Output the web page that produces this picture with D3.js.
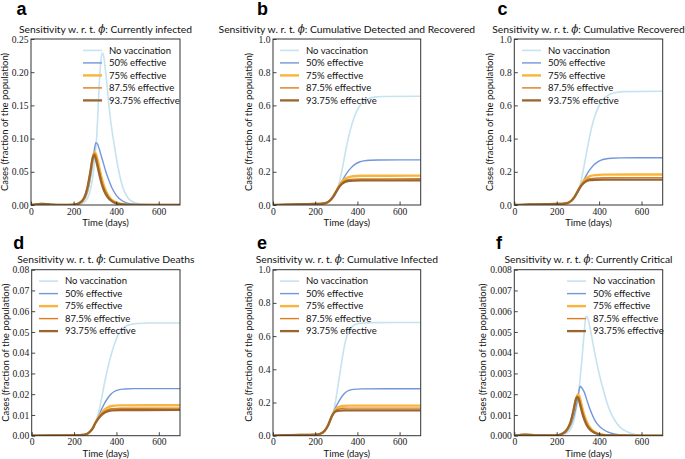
<!DOCTYPE html>
<html><head><meta charset="utf-8">
<script src="https://cdn.jsdelivr.net/npm/d3@7"></script>
<style>body{margin:0;background:#fff}</style>
</head><body><svg id="chart" width="685" height="459"></svg>
<script>
// ---------------- DATA ----------------
const seriesNames = ["No vaccination", "50% effective", "75% effective", "87.5% effective", "93.75% effective"];
const xTickValues = [0, 200, 400, 600];
const yTicksA = [0, 0.05, 0.10, 0.15, 0.20, 0.25];
const yTicksUnit = [0, 0.2, 0.4, 0.6, 0.8, 1.0];
const yTicksD = [0, 0.01, 0.02, 0.03, 0.04, 0.05, 0.06, 0.07, 0.08];
const yTicksF = [0, 0.001, 0.002, 0.003, 0.004, 0.005, 0.006, 0.007, 0.008];
const panelLetters = ["a", "b", "c", "d", "e", "f"];
const panelTitles = ["Currently infected", "Cumulative Detected and Recovered", "Cumulative Recovered",
                     "Cumulative Deaths", "Cumulative Infected", "Currently Critical"];

// a: currently infected
const a_noVac = [[0,0],[25,0.001],[50,0.0015],[75,0.0012],[100,0.0006],[150,0.0002],[200,0.0004],[225,0.0012],[250,0.004],[265,0.01],[280,0.024],[290,0.042],[300,0.072],[308,0.1],[316,0.15],[324,0.2],[330,0.222],[335,0.229],[341,0.225],[348,0.208],[355,0.188],[363,0.16],[375,0.125],[390,0.093],[410,0.055],[430,0.028],[455,0.011],[490,0.003],[550,0.0005],[620,0],[700,0]];
const a_eff50 = [[0,0],[25,0.001],[50,0.0015],[75,0.0012],[100,0.0006],[150,0.0002],[200,0.0005],[225,0.002],[250,0.008],[265,0.019],[280,0.042],[290,0.064],[298,0.084],[305,0.094],[312,0.092],[320,0.085],[330,0.074],[340,0.063],[350,0.052],[365,0.038],[380,0.026],[400,0.015],[430,0.006],[470,0.0015],[520,0.0003],[600,0],[700,0]];
const a_eff75 = [[0,0],[25,0.001],[50,0.0015],[75,0.0012],[100,0.0006],[150,0.0002],[200,0.0006],[225,0.0022],[250,0.01],[265,0.024],[280,0.05],[290,0.07],[298,0.08],[305,0.077],[315,0.065],[325,0.05],[335,0.037],[345,0.027],[360,0.016],[375,0.009],[400,0.004],[440,0.001],[500,0.0001],[700,0]];
const a_eff875 = [[0,0],[25,0.001],[50,0.0015],[75,0.0012],[100,0.0006],[150,0.0002],[200,0.0006],[225,0.0023],[250,0.0105],[265,0.025],[280,0.051],[290,0.07],[297,0.078],[304,0.075],[314,0.062],[324,0.047],[334,0.034],[345,0.024],[360,0.014],[375,0.008],[400,0.003],[440,0.0008],[500,0.0001],[700,0]];
const a_eff9375 = [[0,0],[25,0.001],[50,0.0015],[75,0.0012],[100,0.0006],[150,0.0002],[200,0.0006],[225,0.0024],[250,0.011],[265,0.026],[280,0.052],[289,0.07],[295,0.075],[302,0.072],[312,0.059],[322,0.045],[332,0.032],[344,0.021],[360,0.012],[375,0.007],[400,0.0025],[440,0.0006],[500,0.0001],[700,0]];

// b: cumulative detected and recovered
const b_noVac = [[0,0],[50,0.002],[100,0.004],[200,0.006],[250,0.012],[270,0.025],[285,0.045],[300,0.078],[315,0.14],[330,0.23],[345,0.33],[360,0.42],[375,0.49],[390,0.545],[405,0.585],[420,0.612],[440,0.632],[460,0.644],[480,0.65],[520,0.654],[700,0.655]];
const b_eff50 = [[0,0],[50,0.002],[100,0.004],[200,0.006],[250,0.012],[270,0.025],[285,0.045],[300,0.075],[315,0.11],[330,0.15],[345,0.183],[360,0.21],[375,0.231],[390,0.246],[410,0.259],[430,0.266],[460,0.27],[500,0.271],[700,0.272]];
const b_eff75 = [[0,0],[50,0.002],[100,0.004],[200,0.006],[250,0.012],[270,0.027],[285,0.05],[300,0.084],[315,0.118],[330,0.145],[345,0.16],[360,0.168],[380,0.173],[420,0.176],[700,0.177]];
const b_eff875 = [[0,0],[50,0.002],[100,0.004],[200,0.006],[250,0.012],[270,0.027],[285,0.05],[300,0.083],[315,0.114],[330,0.136],[345,0.148],[360,0.153],[380,0.156],[420,0.157],[700,0.158]];
const b_eff9375 = [[0,0],[50,0.002],[100,0.004],[200,0.006],[250,0.012],[270,0.027],[285,0.05],[300,0.082],[315,0.111],[330,0.131],[345,0.141],[360,0.145],[380,0.147],[420,0.148],[700,0.148]];

// c: cumulative recovered
const c_noVac = [[0,0],[50,0.002],[100,0.004],[200,0.006],[250,0.012],[270,0.025],[285,0.046],[300,0.08],[315,0.145],[330,0.24],[345,0.345],[360,0.44],[375,0.515],[390,0.57],[405,0.61],[420,0.638],[440,0.659],[460,0.671],[480,0.678],[520,0.683],[700,0.685]];
const c_eff50 = [[0,0],[50,0.002],[100,0.004],[200,0.006],[250,0.012],[270,0.025],[285,0.046],[300,0.077],[315,0.114],[330,0.156],[345,0.191],[360,0.219],[375,0.241],[390,0.257],[410,0.27],[430,0.277],[460,0.282],[500,0.284],[700,0.285]];
const c_eff75 = [[0,0],[50,0.002],[100,0.004],[200,0.006],[250,0.012],[270,0.027],[285,0.051],[300,0.086],[315,0.122],[330,0.15],[345,0.166],[360,0.175],[380,0.18],[420,0.183],[700,0.184]];
const c_eff875 = [[0,0],[50,0.002],[100,0.004],[200,0.006],[250,0.012],[270,0.027],[285,0.051],[300,0.085],[315,0.118],[330,0.141],[345,0.154],[360,0.159],[380,0.162],[420,0.164],[700,0.165]];
const c_eff9375 = [[0,0],[50,0.002],[100,0.004],[200,0.006],[250,0.012],[270,0.027],[285,0.051],[300,0.084],[315,0.115],[330,0.135],[345,0.146],[360,0.15],[380,0.152],[420,0.153],[700,0.153]];

// d: cumulative deaths
const d_noVac = [[0,0],[100,0.0001],[200,0.0002],[250,0.0005],[275,0.0018],[290,0.0038],[300,0.006],[315,0.011],[330,0.018],[345,0.026],[360,0.033],[375,0.039],[390,0.044],[405,0.048],[420,0.0505],[440,0.0525],[460,0.0535],[500,0.0541],[550,0.0543],[700,0.0543]];
const d_eff50 = [[0,0],[100,0.0001],[200,0.0002],[250,0.0005],[275,0.0018],[290,0.0038],[300,0.0058],[315,0.0092],[330,0.0128],[345,0.0158],[360,0.0183],[375,0.0201],[390,0.0213],[410,0.0221],[440,0.0225],[480,0.0227],[700,0.0227]];
const d_eff75 = [[0,0],[100,0.0001],[200,0.0002],[250,0.0005],[275,0.0019],[290,0.0039],[300,0.006],[315,0.0088],[330,0.011],[345,0.0127],[360,0.0137],[380,0.0143],[410,0.0146],[700,0.0147]];
const d_eff875 = [[0,0],[100,0.0001],[200,0.0002],[250,0.0005],[275,0.0019],[290,0.0039],[300,0.006],[315,0.0085],[330,0.0105],[345,0.0118],[360,0.0126],[380,0.013],[420,0.0132],[700,0.0133]];
const d_eff9375 = [[0,0],[100,0.0001],[200,0.0002],[250,0.0005],[275,0.0019],[290,0.0039],[300,0.006],[315,0.0083],[330,0.01],[345,0.0112],[360,0.0118],[380,0.0122],[420,0.0123],[700,0.0124]];

// e: cumulative infected
const e_noVac = [[0,0],[50,0.003],[100,0.004],[200,0.006],[225,0.012],[245,0.03],[260,0.06],[270,0.09],[280,0.12],[290,0.165],[300,0.235],[310,0.315],[320,0.4],[330,0.48],[340,0.55],[350,0.6],[365,0.64],[380,0.662],[400,0.674],[430,0.679],[480,0.681],[700,0.682]];
const e_eff50 = [[0,0],[50,0.003],[100,0.004],[200,0.006],[225,0.012],[245,0.03],[260,0.06],[270,0.09],[280,0.12],[290,0.15],[300,0.178],[315,0.213],[330,0.242],[345,0.262],[360,0.273],[380,0.279],[420,0.282],[700,0.283]];
const e_eff75 = [[0,0],[50,0.003],[100,0.004],[200,0.006],[225,0.012],[245,0.03],[260,0.06],[270,0.09],[280,0.12],[290,0.145],[300,0.162],[315,0.174],[330,0.179],[360,0.181],[700,0.181]];
const e_eff875 = [[0,0],[50,0.003],[100,0.004],[200,0.006],[225,0.012],[245,0.03],[260,0.06],[270,0.09],[280,0.12],[290,0.142],[300,0.155],[315,0.162],[330,0.165],[360,0.166],[700,0.166]];
const e_eff9375 = [[0,0],[50,0.003],[100,0.004],[200,0.006],[225,0.012],[245,0.03],[260,0.06],[270,0.09],[280,0.12],[290,0.14],[300,0.148],[315,0.151],[340,0.152],[700,0.152]];

// f: currently critical
const f_noVac = [[0,0],[25,0.00003],[50,0.00005],[75,0.00004],[100,0.00002],[150,0.00001],[200,0.00002],[225,0.00005],[250,0.00015],[270,0.0004],[285,0.0009],[300,0.0018],[310,0.0027],[320,0.0038],[329,0.0049],[338,0.00575],[345,0.0057],[355,0.0053],[370,0.0045],[385,0.0037],[400,0.003],[420,0.0022],[440,0.0015],[460,0.001],[480,0.00065],[500,0.0004],[530,0.0002],[570,0.00006],[620,0.00001],[700,0]];
const f_eff50 = [[0,0],[25,0.00003],[50,0.00005],[75,0.00004],[100,0.00002],[150,0.00001],[200,0.00002],[225,0.00007],[250,0.00025],[270,0.0006],[285,0.0011],[295,0.0016],[304,0.0021],[311,0.00238],[319,0.0023],[330,0.0021],[346,0.0016],[360,0.0012],[377,0.0008],[395,0.00052],[417,0.00032],[440,0.00018],[470,0.00008],[520,0.00002],[600,0],[700,0]];
const f_eff75 = [[0,0],[25,0.00003],[50,0.00005],[75,0.00004],[100,0.00002],[150,0.00001],[200,0.00002],[225,0.00008],[250,0.0003],[265,0.0006],[280,0.0012],[290,0.0017],[299,0.00198],[307,0.0019],[317,0.0015],[327,0.0011],[337,0.0008],[350,0.0005],[365,0.0003],[385,0.00015],[410,0.00006],[450,0.00001],[700,0]];
const f_eff875 = [[0,0],[25,0.00003],[50,0.00005],[75,0.00004],[100,0.00002],[150,0.00001],[200,0.00002],[225,0.00008],[250,0.00031],[265,0.00062],[280,0.00123],[290,0.0017],[297,0.0019],[305,0.00183],[315,0.00145],[325,0.00106],[335,0.00076],[348,0.00047],[363,0.00028],[383,0.00014],[410,0.00005],[450,0.00001],[700,0]];
const f_eff9375 = [[0,0],[25,0.00003],[50,0.00005],[75,0.00004],[100,0.00002],[150,0.00001],[200,0.00002],[225,0.00009],[250,0.00032],[265,0.00064],[280,0.00126],[289,0.0017],[295,0.00186],[303,0.00178],[313,0.0014],[323,0.001],[333,0.00071],[346,0.00044],[361,0.00026],[381,0.00013],[410,0.00004],[450,0.00001],[700,0]];

// ---------------- STYLE / LAYOUT ----------------
const colors = ["#c5e3f0", "#7196dd", "#f7b63b", "#e07c1c", "#9a6630"];
const widths = [1.6, 1.4, 2.4, 1.4, 2.3];
const sans = "Lato, 'Open Sans', sans-serif";
const serif = "'Liberation Serif', 'Times New Roman', serif";

const panels = [
  {x0:31,  x1:180,   y0:39,    y1:205,   yMax:0.25,  ticks:yTicksA,    fmt:".2f", data:[a_noVac,a_eff50,a_eff75,a_eff875,a_eff9375], leg:52, ylab:23, lx:16.5, ly:15.2},
  {x0:273, x1:420.7, y0:39,    y1:205,   yMax:1.0,   ticks:yTicksUnit, fmt:".1f", data:[b_noVac,b_eff50,b_eff75,b_eff875,b_eff9375], leg:7, ylab:21, lx:257, ly:15.2},
  {x0:514.3,x1:662.7,y0:39,    y1:205,   yMax:1.0,   ticks:yTicksUnit, fmt:".1f", data:[c_noVac,c_eff50,c_eff75,c_eff875,c_eff9375], leg:7.7, ylab:21, lx:497.5, ly:15.2},
  {x0:31.7,x1:180,   y0:269.7, y1:435.7, yMax:0.08,  ticks:yTicksD,    fmt:".2f", data:[d_noVac,d_eff50,d_eff75,d_eff875,d_eff9375], leg:7.3, ylab:23, lx:13.3, ly:249.2},
  {x0:273, x1:420.7, y0:269.7, y1:435.7, yMax:1.0,   ticks:yTicksUnit, fmt:".1f", data:[e_noVac,e_eff50,e_eff75,e_eff875,e_eff9375], leg:7, ylab:21, lx:257, ly:249.2},
  {x0:514.3,x1:662.7,y0:269.7, y1:435.7, yMax:0.008, ticks:yTicksF,    fmt:".3f", data:[f_noVac,f_eff50,f_eff75,f_eff875,f_eff9375], leg:52.7, ylab:28.5, lx:496, ly:249.2}
];

const svg = d3.select("#chart");

panels.forEach((p, i) => {
  const x = d3.scaleLinear().domain([0, 700]).range([p.x0, p.x1]);
  const y = d3.scaleLinear().domain([0, p.yMax]).range([p.y1, p.y0]);
  const g = svg.append("g");

  const clipId = "clip" + i;
  g.append("clipPath").attr("id", clipId).append("rect")
    .attr("x", p.x0).attr("y", p.y0 - 2).attr("width", p.x1 - p.x0).attr("height", p.y1 - p.y0 + 2);

  const line = d3.line().x(d => x(d[0])).y(d => y(d[1])).curve(d3.curveMonotoneX);
  const lines = g.append("g").attr("clip-path", `url(#${clipId})`);
  p.data.forEach((s, k) => {
    lines.append("path").attr("d", line(s)).attr("fill", "none")
      .attr("stroke", colors[k]).attr("stroke-width", widths[k]).attr("stroke-linejoin", "round");
  });

  // axes with inward ticks
  const xAxis = d3.axisBottom(x).tickValues(xTickValues).tickSizeInner(-3.5).tickSizeOuter(0).tickPadding(2.7);
  const gx = g.append("g").attr("transform", `translate(0,${p.y1})`).call(xAxis);
  const yAxis = d3.axisLeft(y).tickValues(p.ticks).tickFormat(d3.format(p.fmt)).tickSizeInner(-3.5).tickSizeOuter(0).tickPadding(2.5);
  const gy = g.append("g").attr("transform", `translate(${p.x0},0)`).call(yAxis);
  [gx, gy].forEach(ax => {
    ax.select(".domain").remove();
    ax.selectAll(".tick line").attr("stroke", "#333").attr("stroke-width", 0.9);
    ax.selectAll(".tick text").attr("font-family", serif).attr("font-size", 9.6).attr("fill", "#222");
  });

  // frame
  g.append("rect").attr("x", p.x0).attr("y", p.y0).attr("width", p.x1 - p.x0).attr("height", p.y1 - p.y0)
    .attr("fill", "none").attr("stroke", "#333").attr("stroke-width", 1);

  // labels
  g.append("text").attr("x", (p.x0 + p.x1) / 2).attr("y", p.y1 + 21).attr("text-anchor", "middle")
    .attr("font-family", sans).attr("font-size", 9.5).attr("fill", "#111").text("Time (days)");
  g.append("text").attr("transform", `translate(${p.x0 - p.ylab},${(p.y0 + p.y1) / 2}) rotate(-90)`)
    .attr("text-anchor", "middle").attr("font-family", sans).attr("font-size", 9.5).attr("fill", "#111")
    .text("Cases (fraction of the population)");

  const t = g.append("text").attr("x", (p.x0 + p.x1) / 2).attr("y", p.y0 - 6.3).attr("text-anchor", "middle")
    .attr("font-family", sans).attr("font-size", 10.3).attr("fill", "#111");
  t.append("tspan").text("Sensitivity w. r. t. ");
  t.append("tspan").attr("font-family", "'DejaVu Serif', serif").attr("font-style", "italic").text("ϕ");
  t.append("tspan").text(": " + panelTitles[i]);

  g.append("text").attr("x", p.lx).attr("y", p.ly).attr("font-family", "'Liberation Sans', Arial, sans-serif")
    .attr("font-weight", "bold").attr("font-size", 18).attr("fill", "#000").text(panelLetters[i]);

  // legend
  seriesNames.forEach((name, k) => {
    const ly = p.y0 + 11.4 + k * 12.5;
    g.append("line").attr("x1", p.x0 + p.leg).attr("x2", p.x0 + p.leg + 19).attr("y1", ly).attr("y2", ly)
      .attr("stroke", colors[k]).attr("stroke-width", widths[k]);
    g.append("text").attr("x", p.x0 + p.leg + 26).attr("y", ly).attr("dy", "0.35em")
      .attr("font-family", sans).attr("font-size", 9.5).attr("fill", "#111").text(name);
  });
});
</script>
</body></html>
